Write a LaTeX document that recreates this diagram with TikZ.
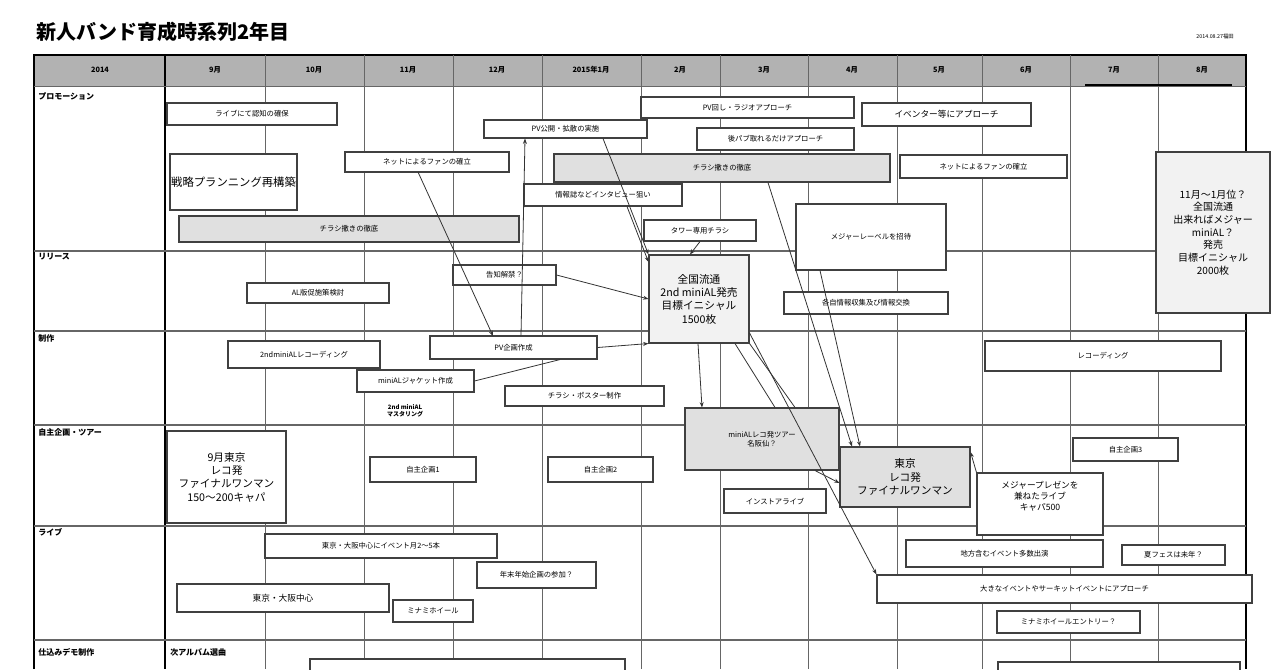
\documentclass[tikz,border=0pt]{standalone}
\usepackage{fontspec}
\setmainfont{Noto Sans CJK JP}
\usetikzlibrary{fit,arrows.meta}
\tikzset{
  bx/.style={draw=black!75,line width=0.8pt,fill=white},
  gbx/.style={bx,fill=black!12},
  lbx/.style={bx,fill=black!5},
  tx/.style={align=center,font=\fontsize{5.5}{7}\selectfont,inner sep=0pt},
  grid/.style={draw=black!60,line width=0.5pt},
  arr/.style={draw=black!80,line width=0.6pt,-{Stealth[length=4pt,width=3pt]}},
  ln/.style={draw=black!80,line width=0.6pt}
}
\newcommand\bx[8][bx]{\node[#1,fit={(#4,#5)(#6,#7)},inner sep=0pt] (#2) {};\node[tx,#3] at (#2.center) {#8};}
\begin{document}
\begin{tikzpicture}[x=0.75pt,y=-0.75pt]
\useasboundingbox (0,0) rectangle (1280,669);
% title
\node[anchor=west,font=\bfseries\fontsize{15}{18}\selectfont,inner sep=0] (title) at (36,32) {新人バンド育成時系列2年目};
\node[anchor=east,font=\fontsize{4}{5}\selectfont,inner sep=0] (date) at (1234,36) {2014.08.27福田};
% header
\fill[black!30] (34,55) rectangle (1246,86);
\draw[line width=1.2pt] (34,669) -- (34,55) -- (1246,55) -- (1246,669);
\draw[line width=1.2pt] (165,55) -- (165,669);
\draw[grid] (34,86) -- (1246,86);
\foreach \y in {251,331,425,526,640} \draw[grid,line width=0.8pt] (34,\y) -- (1246,\y);
\foreach \x in {265,364,453,542,641,720,808,897,982,1070,1158} \draw[grid] (\x,55) -- (\x,669);
\draw[line width=0.8pt] (1085,85) -- (1232,85);
\foreach \t/\x in {2014/100,9月/215,10月/314,11月/408,12月/497,2015年1月/591,2月/680,3月/764,4月/852,5月/939,6月/1026,7月/1114,8月/1202}
  \node[tx,font=\bfseries\fontsize{5.5}{7}\selectfont] at (\x,70) {\t};
\foreach \t/\y in {プロモーション/96,リリース/257,制作/338,自主企画・ツアー/432,ライブ/532,仕込みデモ制作/652}
  \node[tx,anchor=west,font=\bfseries\fontsize{6}{7}\selectfont] at (38,\y) {\t};
\node[tx,anchor=west,font=\bfseries\fontsize{6}{7}\selectfont] at (170,652) {次アルバム選曲};
% promotion
\bx{a1}{}{167}{103}{337}{125}{ライブにて認知の確保}
\bx{a2}{font=\fontsize{8.5}{10}\selectfont}{170}{154}{297}{210}{戦略プランニング再構築}
\bx[gbx]{a3}{}{179}{216}{519}{242}{チラシ撒きの徹底}
\bx{a4}{}{345}{152}{509}{172}{ネットによるファンの確立}
\bx{a5}{}{484}{120}{647}{138}{PV公開・拡散の実施}
\bx{a6}{}{641}{97}{854}{118}{PV回し・ラジオアプローチ}
\bx{a7}{}{697}{128}{854}{150}{後パブ取れるだけアプローチ}
\bx[gbx]{a8}{}{554}{154}{890}{182}{チラシ撒きの徹底}
\bx{a9}{}{524}{184}{682}{206}{情報誌などインタビュー狙い}
\bx{a10}{}{644}{220}{756}{241}{タワー専用チラシ}
\bx{a11}{}{796}{204}{946}{270}{メジャーレーベルを招待}
\bx{a12}{font=\fontsize{6.5}{8}\selectfont}{862}{103}{1031}{126}{イベンター等にアプローチ}
\bx{a13}{}{900}{155}{1067}{178}{ネットによるファンの確立}
\bx[lbx]{a14}{font=\fontsize{7.5}{9.5}\selectfont}{1156}{152}{1270}{313}{11月〜1月位？\\全国流通\\出来ればメジャー\\miniAL？\\発売\\目標イニシャル\\2000枚}
% release
\bx{b1}{}{453}{265}{556}{285}{告知解禁？}
\bx[lbx]{b3}{font=\fontsize{8}{10}\selectfont}{649}{255}{749}{343}{全国流通\\2nd miniAL発売\\目標イニシャル\\1500枚}
\bx{b2}{}{247}{283}{389}{303}{AL版促施策検討}
\bx{b4}{}{784}{292}{948}{314}{各自情報収集及び情報交換}
% production
\bx{c1}{}{228}{341}{380}{368}{2ndminiALレコーディング}
\bx{c2}{}{430}{336}{597}{359}{PV企画作成}
\bx{c3}{}{357}{370}{474}{392}{miniALジャケット作成}
\bx{c4}{}{505}{386}{664}{406}{チラシ・ポスター制作}
\node[tx,font=\bfseries\fontsize{4.5}{5.5}\selectfont] (c5) at (405,411) {2nd miniAL\\マスタリング};
\bx{c6}{}{985}{341}{1221}{371}{レコーディング}
% self-produced
\bx{d1}{font=\fontsize{8}{10}\selectfont}{167}{431}{286}{523}{9月東京\\レコ発\\ファイナルワンマン\\150〜200キャパ}
\bx{d2}{}{370}{457}{476}{482}{自主企画1}
\bx{d3}{}{548}{457}{653}{482}{自主企画2}
\bx[gbx]{d4}{}{685}{408}{839}{470}{miniALレコ発ツアー\\名阪仙？}
\bx[gbx]{d5}{font=\fontsize{8}{10}\selectfont}{840}{447}{970}{507}{東京\\レコ発\\ファイナルワンマン}
\bx{d6}{}{724}{489}{826}{513}{インストアライブ}
\bx{d7}{font=\fontsize{6.5}{8}\selectfont}{977}{473}{1103}{535}{メジャープレゼンを\\兼ねたライブ\\キャパ500\\[4pt]}
\bx{d8}{}{1073}{438}{1178}{461}{自主企画3}
% live
\bx{e1}{}{265}{534}{497}{558}{東京・大阪中心にイベント月2〜5本}
\bx{e2}{}{477}{562}{596}{588}{年末年始企画の参加？}
\bx{e3}{font=\fontsize{6.5}{8}\selectfont}{177}{584}{389}{612}{東京・大阪中心}
\bx{e4}{}{393}{600}{473}{622}{ミナミホイール}
\bx{e5}{}{906}{540}{1103}{567}{地方含むイベント多数出演}
\bx{e6}{}{1122}{545}{1225}{565}{夏フェスは未年？}
\bx{e7}{}{877}{575}{1252}{603}{大きなイベントやサーキットイベントにアプローチ}
\bx{e8}{}{997}{611}{1140}{633}{ミナミホイールエントリー？}
% demo
\draw[bx] (310,671) -- (310,659) -- (625,659) -- (625,671);
\draw[bx] (998,671) -- (998,662) -- (1240,662) -- (1240,671);
% connectors
\coordinate (p1) at (418,172);
\draw[arr] (p1) -- (493,336);
\draw[arr] (c2.north -| 521,0) -- (a5.south -| 525,0);
\draw[arr] (b1.east) -- (b3.west);
\draw[arr] (c2.east) -- (b3.south west);
\draw[ln] (c3.east) -- (c2.south -| 560,0);
\draw[arr] (a5.south -| 603,0) -- (b3.north west);
\draw[arr] (a9.south -| 627,0) -- (b3.west |- 0,262);
\draw[arr] (a10.south) -- (b3.north -| 690,0);
\draw[arr] (a8.south -| 768,0) -- (d5.north -| 852,0);
\draw[arr] (a11.south -| 820,0) -- (d5.north -| 860,0);
\draw[arr] (b3.south -| 698,0) -- (d4.north -| 702,0);
\draw[ln] (b3.south -| 735,0) -- (d4.north -| 775,0);
\draw[ln] (b3.south east) -- (d4.north -| 795,0);
\draw[arr] (b3.east |- 0,333) -- (e7.north west);
\draw[arr] (d4.south -| 815,0) -- (d5.west |- 0,483);
\draw[arr] (d7.north west) -- (d5.east |- 0,452);
\end{tikzpicture}
\end{document}
